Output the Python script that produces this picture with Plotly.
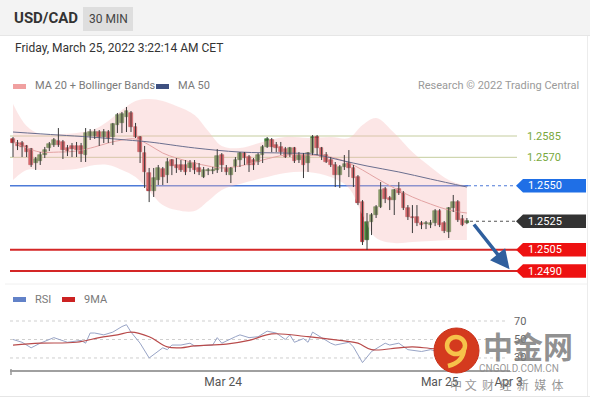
import plotly.graph_objects as go

W, H = 590, 400
def px(x): return x / W
def py(y): return 1 - y / H

# ---------------- data ----------------
opens = [1.25829,1.25801,1.25801,1.25780,1.25758,1.25660,1.25674,1.25716,1.25766,1.25787,
         1.25815,1.25808,1.25766,1.25780,1.25780,1.25780,1.25716,1.25850,1.25850,1.25878,
         1.25843,1.25878,1.25843,1.25927,1.25942,1.25984,1.26012,1.25913,1.25843,1.25730,
         1.25590,1.25463,1.25540,1.25618,1.25575,1.25681,1.25646,1.25646,1.25646,1.25625,
         1.25660,1.25625,1.25561,1.25604,1.25604,1.25611,1.25716,1.25625,1.25575,1.25632,
         1.25681,1.25730,1.25702,1.25681,1.25667,1.25716,1.25773,1.25822,1.25787,1.25773,
         1.25758,1.25716,1.25766,1.25681,1.25716,1.25660,1.25730,1.25843,1.25766,1.25716,
         1.25681,1.25646,1.25575,1.25632,1.25660,1.25625,1.25561,1.25385,1.25118,1.25245,
         1.25294,1.25350,1.25477,1.25414,1.25399,1.25477,1.25449,1.25343,1.25280,1.25280,
         1.25238,1.25230,1.25223,1.25238,1.25322,1.25238,1.25174,1.25343,1.25385,1.25266,
         1.25238]
highs = [1.25843,1.25822,1.25815,1.25787,1.25766,1.25702,1.25737,1.25773,1.25808,1.25836,
         1.25906,1.25822,1.25787,1.25801,1.25808,1.25801,1.25906,1.25899,1.25899,1.25892,
         1.25899,1.25892,1.25942,1.26012,1.26019,1.26054,1.26026,1.25942,1.25850,1.25780,
         1.25625,1.25625,1.25646,1.25632,1.25695,1.25688,1.25695,1.25681,1.25681,1.25681,
         1.25681,1.25660,1.25632,1.25625,1.25632,1.25758,1.25730,1.25646,1.25632,1.25702,
         1.25737,1.25737,1.25716,1.25695,1.25730,1.25787,1.25843,1.25836,1.25808,1.25808,
         1.25773,1.25773,1.25773,1.25737,1.25730,1.25737,1.25857,1.25857,1.25773,1.25737,
         1.25702,1.25667,1.25646,1.25716,1.25751,1.25646,1.25575,1.25399,1.25308,1.25308,
         1.25364,1.25526,1.25491,1.25428,1.25477,1.25526,1.25463,1.25364,1.25364,1.25364,
         1.25252,1.25252,1.25259,1.25336,1.25336,1.25252,1.25350,1.25435,1.25399,1.25294,
         1.25273]
lows = [1.25702,1.25751,1.25702,1.25702,1.25632,1.25611,1.25646,1.25695,1.25744,1.25773,
        1.25773,1.25688,1.25709,1.25702,1.25702,1.25667,1.25667,1.25822,1.25829,1.25780,
        1.25801,1.25801,1.25787,1.25871,1.25871,1.25878,1.25878,1.25836,1.25660,1.25484,
        1.25385,1.25421,1.25505,1.25505,1.25519,1.25575,1.25590,1.25597,1.25575,1.25597,
        1.25582,1.25575,1.25554,1.25575,1.25582,1.25590,1.25597,1.25575,1.25519,1.25597,
        1.25632,1.25646,1.25597,1.25611,1.25646,1.25660,1.25766,1.25737,1.25737,1.25716,
        1.25695,1.25702,1.25660,1.25660,1.25554,1.25597,1.25716,1.25716,1.25681,1.25660,
        1.25632,1.25491,1.25484,1.25611,1.25561,1.25491,1.25364,1.25083,1.25048,1.25153,
        1.25273,1.25343,1.25378,1.25329,1.25294,1.25435,1.25329,1.25259,1.25167,1.25216,
        1.25195,1.25195,1.25202,1.25216,1.25209,1.25167,1.25132,1.25315,1.25245,1.25216,
        1.25230]
closes = [1.25801,1.25780,1.25773,1.25737,1.25646,1.25688,1.25716,1.25751,1.25794,1.25822,
          1.25787,1.25751,1.25744,1.25758,1.25751,1.25723,1.25871,1.25878,1.25878,1.25843,
          1.25878,1.25836,1.25934,1.25998,1.26005,1.26026,1.25913,1.25843,1.25737,1.25597,
          1.25463,1.25554,1.25625,1.25561,1.25667,1.25639,1.25625,1.25611,1.25597,1.25660,
          1.25611,1.25597,1.25611,1.25611,1.25611,1.25709,1.25646,1.25597,1.25625,1.25681,
          1.25730,1.25695,1.25646,1.25646,1.25716,1.25773,1.25829,1.25773,1.25766,1.25737,
          1.25702,1.25766,1.25674,1.25716,1.25646,1.25730,1.25843,1.25766,1.25702,1.25667,
          1.25646,1.25575,1.25632,1.25653,1.25625,1.25554,1.25378,1.25104,1.25245,1.25294,
          1.25350,1.25470,1.25406,1.25399,1.25470,1.25449,1.25343,1.25280,1.25273,1.25238,
          1.25223,1.25238,1.25238,1.25322,1.25223,1.25181,1.25343,1.25385,1.25259,1.25223,
          1.25252]

bb_idx = [0,3,6,10,14,18,21,24,27,30,33,36,40,43,46,50,55,60,65,70,74,77,80,84,88,92,96,100]
bb_upper = [1.26075,1.25920,1.25864,1.25864,1.25871,1.25899,1.25956,1.26033,1.26096,1.26110,
            1.26096,1.26061,1.25998,1.25885,1.25780,1.25766,1.25808,1.25843,1.25836,1.25843,
            1.25836,1.25927,1.25977,1.25871,1.25737,1.25632,1.25540,1.25498]
bb_mid = [1.25808,1.25766,1.25737,1.25737,1.25744,1.25773,1.25801,1.25822,1.25829,1.25787,
          1.25730,1.25695,1.25660,1.25639,1.25625,1.25639,1.25681,1.25716,1.25716,1.25702,
          1.25660,1.25611,1.25554,1.25484,1.25421,1.25371,1.25329,1.25308]
bb_lower = [1.25540,1.25611,1.25611,1.25611,1.25618,1.25646,1.25646,1.25611,1.25561,1.25463,
            1.25364,1.25329,1.25322,1.25392,1.25470,1.25512,1.25554,1.25590,1.25597,1.25561,
            1.25484,1.25294,1.25132,1.25097,1.25104,1.25111,1.25118,1.25118]

ma50_idx = [0,10,17,25,30,40,50,60,66,72,78,85,92,100]
ma50 = [1.25878,1.25857,1.25843,1.25822,1.25808,1.25766,1.25737,1.25730,1.25723,1.25681,
        1.25639,1.25597,1.25547,1.25491]

rsi_idx = [0,2,4,6,9,12,15,16,17,18,20,22,24,25,26,28,30,33,34,35,37,39,40,43,44,45,46,49,50,52,
           54,56,58,60,61,62,64,65,66,68,70,71,74,75,77,79,82,83,85,87,90,92,95,97,100]
rsi = [50,47,41,46,52,47,49,46,57,57,55,58,64,66,58,46,30,41,39,44,44,46,43,44,44,52,46,53,55,52,
       53,59,57,50,55,47,51,47,58,52,46,44,47,42,25,37,46,44,46,39,37,39,35,47,42]
ma9_idx = [0,6,14,19,23,26,30,34,37,40,47,52,57,65,72,76,79,85,88,93,100]
ma9 = [44,46,47,52,55,58,53,42,41,43,45,49,56,53,49,46,39,41,42,40,40]
rsi_levels = [70, 50, 30]

green_levels = [1.2585, 1.2570]
blue_level = 1.2550
last_level = 1.2525
red_levels = [1.2505, 1.2490]

x_tickvals = [46.3, 94.0, 109.2]
x_ticktext = ["Mar 24", "Mar 25", "Apr 3"]

# ---------------- figure ----------------
idx = list(range(len(closes)))
FONT = "Roboto, Arial, sans-serif"
fig = go.Figure()

# Bollinger band
fig.add_trace(go.Scatter(x=bb_idx, y=bb_upper, mode="lines", line=dict(width=0, shape="spline"),
                         hoverinfo="skip", showlegend=False))
fig.add_trace(go.Scatter(x=bb_idx, y=bb_lower, mode="lines", line=dict(width=0, shape="spline"),
                         fill="tonexty", fillcolor="rgba(246,190,190,0.38)", hoverinfo="skip",
                         showlegend=False))
fig.add_trace(go.Scatter(x=bb_idx, y=bb_mid, mode="lines",
                         line=dict(width=1, color="#e3a3a3", shape="spline"), hoverinfo="skip",
                         showlegend=False))
fig.add_trace(go.Scatter(x=ma50_idx, y=ma50, mode="lines",
                         line=dict(width=1, color="#6b6f8f", shape="spline"), hoverinfo="skip",
                         showlegend=False))

# wicks
wx, wy = [], []
for i, h, l in zip(idx, highs, lows):
    wx += [i, i, None]
    wy += [l, h, None]
fig.add_trace(go.Scatter(x=wx, y=wy, mode="lines", line=dict(width=1, color="#3a3a3a"),
                         hoverinfo="skip", showlegend=False))
# bodies
base = [min(o, c) for o, c in zip(opens, closes)]
hgt = [max(abs(c - o), 0.00005) for o, c in zip(opens, closes)]
cols = ["#4b8a3b" if c >= o else "#d0343a" for o, c in zip(opens, closes)]
lcols = ["#2f6a25" if c >= o else "#9e2228" for o, c in zip(opens, closes)]
fig.add_trace(go.Bar(x=idx, y=hgt, base=base, width=0.8, marker=dict(color=cols,
                     line=dict(color=lcols, width=0.6)), hoverinfo="skip", showlegend=False))

# RSI
fig.add_trace(go.Scatter(x=rsi_idx, y=rsi, mode="lines", line=dict(width=1, color="#98a4c6"),
                         xaxis="x2", yaxis="y2", hoverinfo="skip", showlegend=False))
fig.add_trace(go.Scatter(x=ma9_idx, y=ma9, mode="lines",
                         line=dict(width=1.2, color="#b84a4a", shape="spline"),
                         xaxis="x2", yaxis="y2", hoverinfo="skip", showlegend=False))

XR = [-0.66, 109.5]
YR = [1.248226, 1.261245]
ppp = (282 - 97) / (YR[1] - YR[0])  # pixels per price unit
hh = 6.8 / ppp

shapes = []
annos = []
# header band
shapes.append(dict(type="rect", xref="paper", yref="paper", x0=0, x1=1, y0=py(35), y1=1,
                   fillcolor="#f3f3f3", line=dict(width=0), layer="below"))
shapes.append(dict(type="line", xref="paper", yref="paper", x0=0, x1=1, y0=py(35.5), y1=py(35.5),
                   line=dict(color="#e6e6e6", width=1)))
shapes.append(dict(type="rect", xref="paper", yref="paper", x0=px(83), x1=px(133), y0=py(31), y1=py(7),
                   fillcolor="#dedede", line=dict(width=0)))
shapes.append(dict(type="line", xref="paper", yref="paper", x0=px(587.5), x1=px(587.5), y0=py(397), y1=py(36),
                   line=dict(color="#ececec", width=1)))
shapes.append(dict(type="line", xref="paper", yref="paper", x0=0, x1=1, y0=py(396.5), y1=py(396.5),
                   line=dict(color="#e6e6e6", width=1)))
shapes.append(dict(type="line", xref="paper", yref="paper", x0=px(5), x1=px(587), y0=py(284), y1=py(284),
                   line=dict(color="#f0f0f0", width=1)))

# level lines
for lv in green_levels:
    shapes.append(dict(type="line", xref="paper", yref="y", x0=px(10), x1=px(517), y0=lv, y1=lv,
                       line=dict(color="#c5cd9e", width=1), layer="below"))
    annos.append(dict(xref="paper", yref="y", x=px(525), y=lv, text=f"{lv:.4f}", showarrow=False,
                      xanchor="left", yanchor="middle", font=dict(size=11, color="#78a83c", family=FONT)))

shapes.append(dict(type="line", xref="paper", yref="y", x0=px(10), x1=px(468), y0=blue_level, y1=blue_level,
                   line=dict(color="#4d7ad8", width=1.5), layer="below"))
shapes.append(dict(type="line", xref="paper", yref="y", x0=px(468), x1=px(516), y0=blue_level, y1=blue_level,
                   line=dict(color="#4d7ad8", width=1.2, dash="dot")))
shapes.append(dict(type="line", xref="paper", yref="y", x0=px(470), x1=px(516), y0=last_level, y1=last_level,
                   line=dict(color="#555555", width=1.2, dash="dot")))
for lv in red_levels:
    shapes.append(dict(type="line", xref="paper", yref="y", x0=px(10), x1=px(517), y0=lv, y1=lv,
                       line=dict(color="#d42626", width=2), layer="below"))

def tag(lv, color):
    x_tip, x_l, x_r = px(516), px(523), px(586)
    path = (f"M {x_tip},{lv} L {x_l},{lv + hh} L {x_r},{lv + hh} "
            f"L {x_r},{lv - hh} L {x_l},{lv - hh} Z")
    shapes.append(dict(type="path", xref="paper", yref="y", path=path, fillcolor=color,
                       line=dict(width=0)))
    annos.append(dict(xref="paper", yref="y", x=px(526), y=lv, text=f"{lv:.4f}", showarrow=False,
                      xanchor="left", yanchor="middle", font=dict(size=11, color="white", family=FONT)))

tag(blue_level, "#1f6fe6")
tag(last_level, "#333333")
for lv in red_levels:
    tag(lv, "#ee1111")

# RSI guide lines
for lv in rsi_levels:
    shapes.append(dict(type="line", xref="paper", yref="y2", x0=px(10), x1=px(505), y0=lv, y1=lv,
                       line=dict(color="#cfcfcf", width=1, dash="dot"), layer="below"))
    annos.append(dict(xref="paper", yref="y2", x=px(512), y=lv, text=str(lv), showarrow=False,
                      xanchor="left", yanchor="middle", font=dict(size=11, color="#666", family=FONT)))
shapes.append(dict(type="line", xref="paper", yref="paper", x0=px(11), x1=px(11), y0=py(375), y1=py(369),
                   line=dict(color="#9a9a9a", width=1.5)))

# legends
shapes.append(dict(type="rect", xref="paper", yref="paper", x0=px(13), x1=px(26), y0=py(89), y1=py(84),
                   fillcolor="#f0a0a0", line=dict(width=0)))
shapes.append(dict(type="rect", xref="paper", yref="paper", x0=px(156), x1=px(169), y0=py(89), y1=py(84),
                   fillcolor="#3e5080", line=dict(width=0)))
shapes.append(dict(type="rect", xref="paper", yref="paper", x0=px(13), x1=px(26), y0=py(302), y1=py(297),
                   fillcolor="#6282c8", line=dict(width=0)))
shapes.append(dict(type="rect", xref="paper", yref="paper", x0=px(62), x1=px(75), y0=py(302), y1=py(297),
                   fillcolor="#cc2222", line=dict(width=0)))

def text(x, y, s, size=11, color="#777", anchor="left", bold=False, family=FONT):
    if bold:
        s = f"<b>{s}</b>"
    annos.append(dict(xref="paper", yref="paper", x=px(x), y=py(y), text=s, showarrow=False,
                      xanchor=anchor, yanchor="middle", font=dict(size=size, color=color, family=family)))

text(12, 18, "USD/CAD", size=15, color="#333", bold=True)
text(108, 19, "30 MIN", size=12, color="#444", anchor="center")
text(13, 48, "Friday, March 25, 2022 3:22:14 AM CET", size=12, color="#333")
text(33, 86, "MA 20 + Bollinger Bands", size=11, color="#7a7a7a")
text(176, 86, "MA 50", size=11, color="#7a7a7a")
text(581, 86, "Research © 2022 Trading Central", size=11, color="#9a9a9a", anchor="right")
text(33, 299, "RSI", size=11, color="#7a7a7a")
text(82, 299, "9MA", size=11, color="#7a7a7a")

# forecast arrow
annos.append(dict(xref="x", yref="y", axref="x", ayref="y", x=109.4, y=1.24912, ax=101.3, ay=1.25238,
                  showarrow=True, arrowhead=2, arrowsize=1.1, arrowwidth=3.5, arrowcolor="#2f5f9e",
                  text=""))

# watermark
shapes.append(dict(type="circle", xref="paper", yref="paper", x0=px(434), x1=px(479), y0=py(373), y1=py(328),
                   fillcolor="#d43a1e", line=dict(color="#c8301a", width=1)))
shapes.append(dict(type="circle", xref="paper", yref="paper", x0=px(447), x1=px(465), y0=py(354), y1=py(337),
                   fillcolor="rgba(0,0,0,0)", line=dict(color="#f6c24a", width=4.5)))
shapes.append(dict(type="path", xref="paper", yref="paper",
                   path=f"M {px(464)},{py(348)} Q {px(464)},{py(362)} {px(448)},{py(366)}",
                   line=dict(color="#f6c24a", width=4.5)))
text(528, 345, "<b>中金网</b>", size=30, color="rgba(125,125,125,0.85)", anchor="center",
     family="Noto Sans CJK SC")
text(519, 368, "CNGOLD.COM.CN", size=10, color="rgba(140,140,140,0.9)", anchor="center")
text(507, 384, "中 文  财  经  新  媒  体", size=12, color="rgba(130,130,130,0.85)", anchor="center",
     family="Noto Sans CJK SC")

fig.update_layout(
    width=W, height=H, autosize=False, margin=dict(l=0, r=0, t=0, b=0, pad=0),
    paper_bgcolor="white", plot_bgcolor="rgba(0,0,0,0)",
    barmode="overlay", bargap=0, showlegend=False, hovermode=False,
    font=dict(family=FONT),
    xaxis=dict(domain=[px(10), px(510)], range=XR, visible=False, fixedrange=True, automargin=False),
    yaxis=dict(domain=[py(282), py(97)], range=YR, visible=False, fixedrange=True, automargin=False),
    xaxis2=dict(domain=[px(10), px(510)], range=XR, anchor="y2", showline=True, linecolor="#a0a0a0",
                linewidth=2, showgrid=False, zeroline=False, ticks="", tickvals=x_tickvals,
                ticktext=x_ticktext, tickfont=dict(size=12, color="#555", family=FONT),
                automargin=False, fixedrange=True),
    yaxis2=dict(domain=[py(370), py(310)], range=[17, 81.9], visible=False, fixedrange=True,
                automargin=False),
    shapes=shapes, annotations=annos,
)

post = ("document.documentElement.style.overflow='hidden';"
        "document.body.style.margin='0';document.body.style.overflow='hidden';")
fig.write_html("out.html", config={"displayModeBar": False, "responsive": False},
               default_width="590px", default_height="400px", post_script=post)
